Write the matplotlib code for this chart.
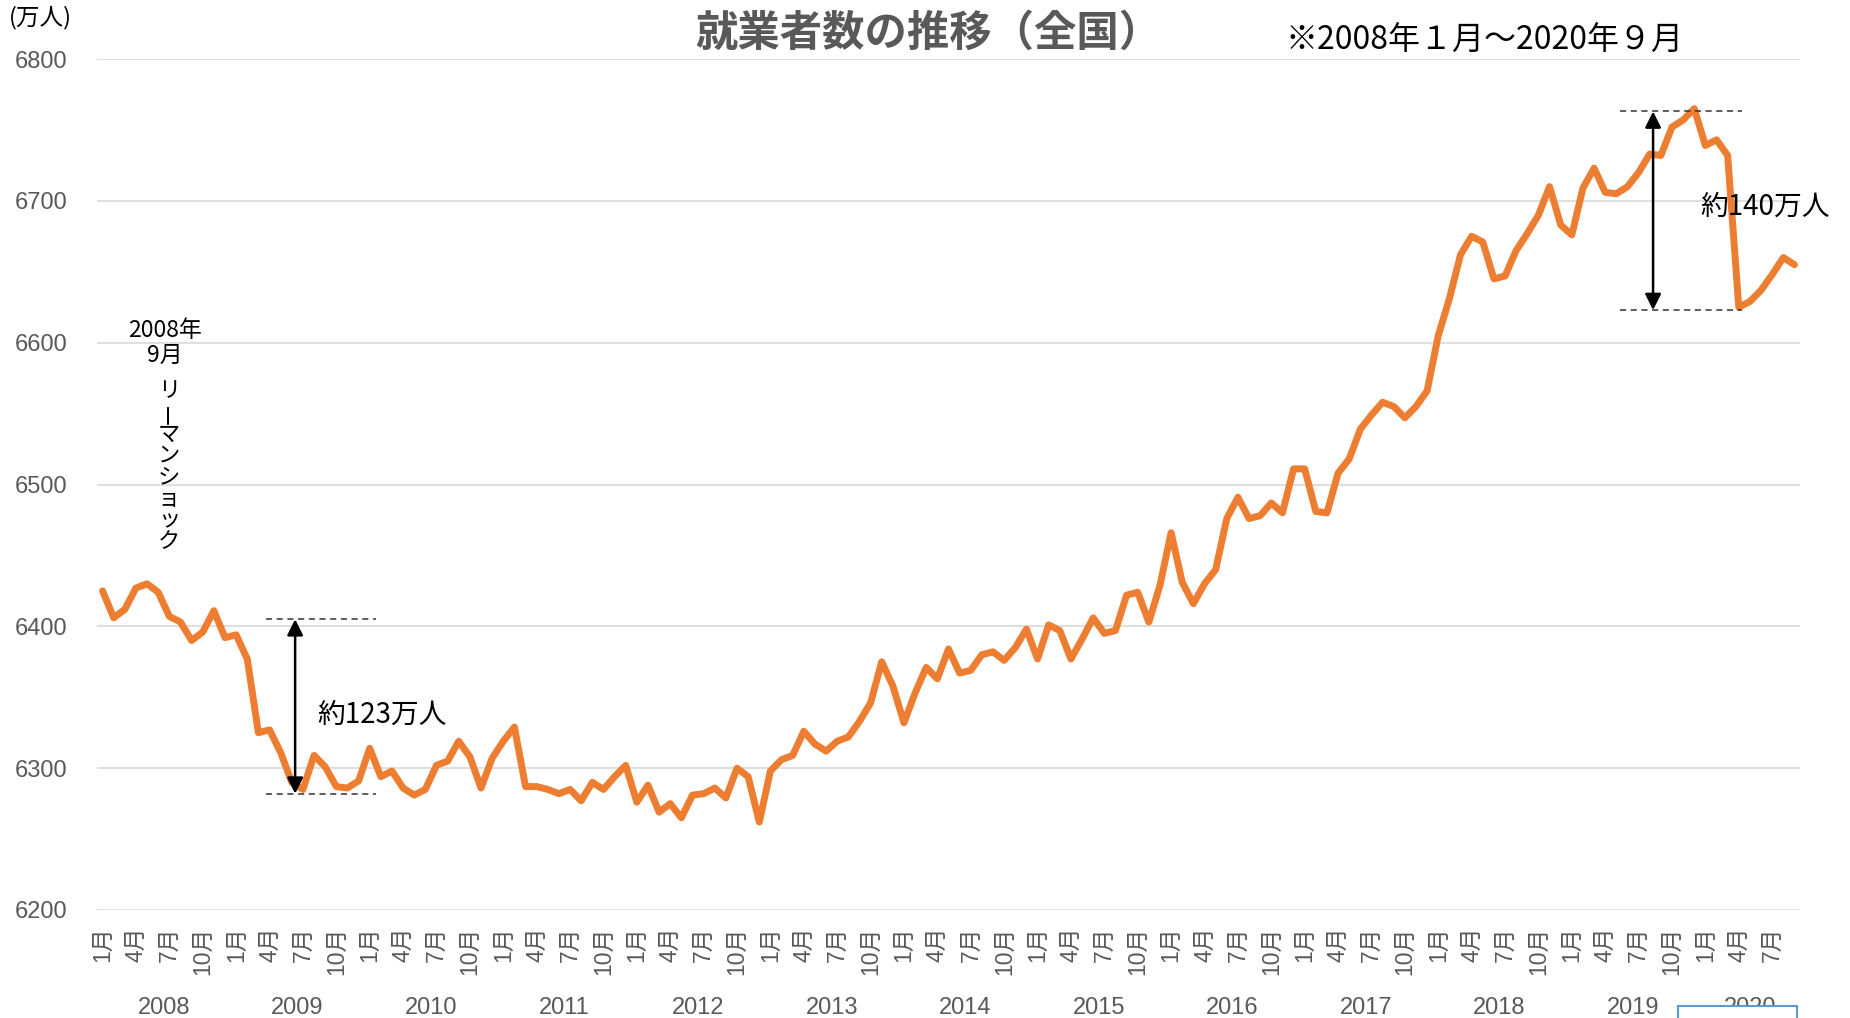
import numpy as np
import matplotlib
matplotlib.use("Agg")
import matplotlib.pyplot as plt
from matplotlib.patches import Rectangle
from matplotlib.transforms import blended_transform_factory

JP = ['Noto Sans CJK JP', 'DejaVu Sans']
NUM = ['Liberation Sans', 'Noto Sans CJK JP']

# 就業者数（万人）, 2008年1月〜2020年9月
emp_2008 = [6425, 6406, 6412, 6427, 6430, 6424, 6407, 6403, 6390, 6396, 6411, 6392]
emp_2009 = [6394, 6377, 6325, 6327, 6311, 6290, 6285, 6309, 6301, 6287, 6286, 6291]
emp_2010 = [6314, 6294, 6298, 6286, 6281, 6285, 6302, 6305, 6319, 6308, 6286, 6307]
emp_2011 = [6319, 6329, 6287, 6287, 6285, 6282, 6285, 6277, 6290, 6285, 6294, 6302]
emp_2012 = [6276, 6288, 6269, 6275, 6265, 6281, 6282, 6286, 6279, 6300, 6294, 6262]
emp_2013 = [6298, 6306, 6309, 6326, 6317, 6312, 6319, 6322, 6333, 6346, 6375, 6358]
emp_2014 = [6332, 6353, 6371, 6363, 6384, 6367, 6369, 6380, 6382, 6376, 6385, 6398]
emp_2015 = [6377, 6401, 6397, 6377, 6391, 6406, 6395, 6397, 6422, 6424, 6403, 6429]
emp_2016 = [6466, 6431, 6416, 6430, 6440, 6476, 6491, 6476, 6478, 6487, 6480, 6511]
emp_2017 = [6511, 6481, 6480, 6508, 6518, 6539, 6549, 6558, 6555, 6547, 6555, 6566]
emp_2018 = [6605, 6631, 6662, 6675, 6671, 6645, 6647, 6665, 6677, 6690, 6710, 6683]
emp_2019 = [6676, 6709, 6723, 6706, 6705, 6710, 6720, 6733, 6732, 6752, 6757, 6765]
emp_2020 = [6739, 6743, 6732, 6625, 6629, 6637, 6648, 6660, 6655]

years = [2008, 2009, 2010, 2011, 2012, 2013, 2014, 2015, 2016, 2017, 2018, 2019, 2020]
month_labels = ['1月', '4月', '7月', '10月']
y_ticks = [6200, 6300, 6400, 6500, 6600, 6700, 6800]

# 減少幅の注記
lehman_top, lehman_gap = 6405, 123
covid_top, covid_gap = 6763, 140

series = [emp_2008, emp_2009, emp_2010, emp_2011, emp_2012, emp_2013, emp_2014,
          emp_2015, emp_2016, emp_2017, emp_2018, emp_2019, emp_2020]
values = np.concatenate(series)
x = np.arange(len(values))

W, H = 1850, 1018
fig = plt.figure(figsize=(W / 100, H / 100), dpi=100)
ax = fig.add_axes([97 / W, 1 - 910 / H, (1800 - 97) / W, (910 - 59) / H])

ax.set_xlim(-0.5, len(values) - 0.5)
ax.set_ylim(6200, 6800)
for s in ax.spines.values():
    s.set_visible(False)
ax.set_yticks(y_ticks)
ax.set_yticklabels([str(v) for v in y_ticks], family=NUM, fontsize=17, color='#595959')
ax.grid(axis='y', color='#D9D9D9', lw=1.2)
ax.set_axisbelow(True)
ax.tick_params(axis='y', length=0, pad=21)

# 月ラベル（3か月ごと）
tick_pos = x[::3]
ax.set_xticks(tick_pos)
ax.set_xticklabels([month_labels[(i % 12) // 3] for i in tick_pos], rotation=90,
                   family=NUM, fontsize=16.5, color='#595959')
ax.tick_params(axis='x', length=0, pad=12)

# 年ラベル
tr = blended_transform_factory(ax.transData, fig.transFigure)
start = 0
for yr, s in zip(years, series):
    mid = start + (len(s) - 1) / 2
    ax.text(mid, 1 - 1008 / H, str(yr), transform=tr, ha='center', va='center',
            family=NUM, fontsize=17, color='#595959')
    start += len(s)

ax.plot(x, values, color='#ED7D31', lw=5.0, solid_joinstyle='round',
        solid_capstyle='round', zorder=3)

# リーマンショック後の減少
dash = (0, (4, 3))
ax.hlines([lehman_top, lehman_top - lehman_gap], 14.7, 24.6, colors='#333333',
          linestyles=dash, lw=1.1, zorder=4)
ax.annotate('', xy=(17.3, lehman_top - lehman_gap), xytext=(17.3, lehman_top),
            arrowprops=dict(arrowstyle='<|-|>', color='black', lw=1.8,
                            mutation_scale=24, shrinkA=0, shrinkB=0), zorder=5)
ax.text(19.3, 6338, f'約{lehman_gap}万人', family=JP, fontsize=20, va='center', ha='left')

# コロナ禍の減少
ax.hlines([covid_top, covid_top - covid_gap], 136.3, 147.3, colors='#333333',
          linestyles=dash, lw=1.1, zorder=4)
ax.annotate('', xy=(139.3, covid_top - covid_gap), xytext=(139.3, covid_top),
            arrowprops=dict(arrowstyle='<|-|>', color='black', lw=1.8,
                            mutation_scale=24, shrinkA=0, shrinkB=0), zorder=5)
ax.text(143.5, 6696, f'約{covid_gap}万人', family=JP, fontsize=20, va='center', ha='left',
        clip_on=False, zorder=6)

# 2008年9月 リーマンショック（縦書き）
ax.text(5.6, 6600, '2008年\n9月', family=JP, fontsize=16.5, ha='center', va='center',
        linespacing=1.1)
for k, ch in enumerate('リーマンショック'):
    ax.text(5.95, 6566 - k * 15.2, ch, family=JP, fontsize=16, ha='center', va='center',
            rotation=90 if ch == 'ー' else 0)

fig.text(928 / W, 1 - 34 / H, '就業者数の推移（全国）', family=JP, fontsize=30.5,
         fontweight='bold', color='#595959', ha='center', va='center')
fig.text(1286 / W, 1 - 41 / H, '※2008年１月～2020年９月', family=JP, fontsize=23,
         ha='left', va='center')
fig.text(9 / W, 1 - 18 / H, '(万人)', family=JP, fontsize=17, ha='left', va='center')

# 右下のテキストボックス枠
fig.add_artist(Rectangle((1678 / W, -0.03), 119 / W, 0.03 + 1 - 1006 / H,
                         transform=fig.transFigure, facecolor='white',
                         edgecolor='#5B9BD5', lw=1.5, zorder=10))

fig.savefig('out.png', dpi=100)
